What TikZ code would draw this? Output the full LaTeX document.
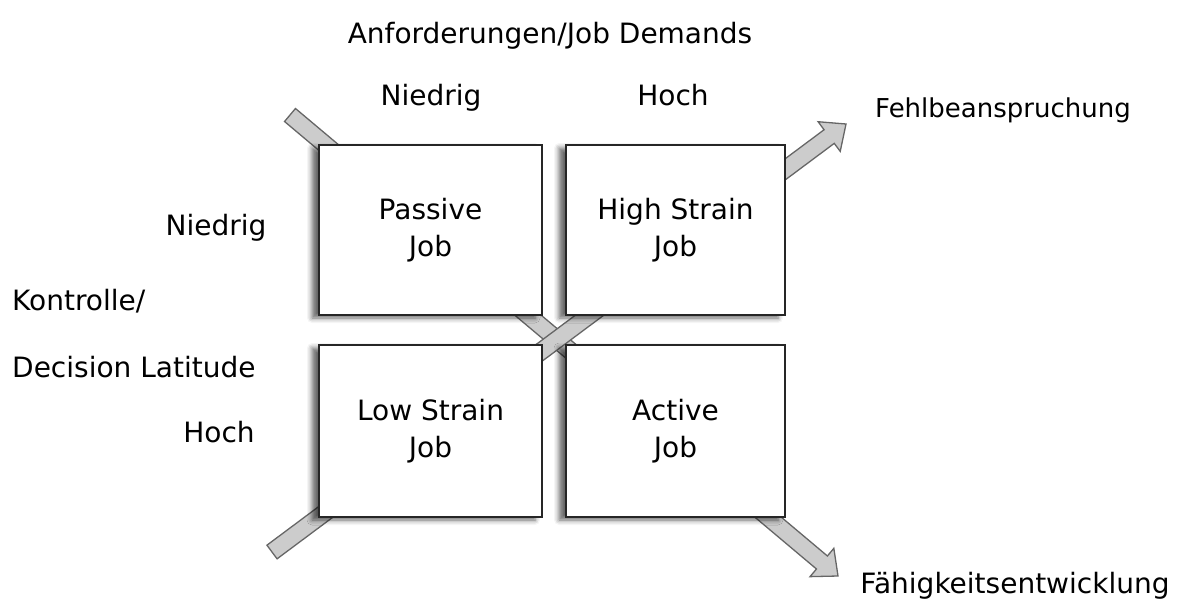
\documentclass[tikz,border=0pt]{standalone}
\usepackage{fontspec}
\setmainfont{DejaVu Sans}
\usetikzlibrary{calc,shadows.blur}
\newcommand\fatarrow[2]{%
  \path ($(#2)!21pt!(#1)$) coordinate (#2h);
  \draw[bigarrow] ($(#1)!8.5pt!90:(#2)$) -- ($(#2h)!8.5pt!90:(#2)$) -- ($(#2h)!18.5pt!90:(#2)$)
    -- (#2) -- ($(#2h)!18.5pt!-90:(#2)$) -- ($(#2h)!8.5pt!-90:(#2)$) -- ($(#1)!8.5pt!-90:(#2)$) -- cycle;}
\begin{document}
\begin{tikzpicture}[x=1pt,y=-1pt,
  lbl/.style={anchor=base,font=\fontsize{28}{37}\selectfont,inner sep=0pt},
  jobbox/.style={draw=black!85,line width=1.8pt,fill=white,align=center,inner sep=0pt,
    font=\fontsize{28}{37}\selectfont,
    blur shadow={shadow xshift=-7pt,shadow yshift=-3pt,shadow blur radius=5pt,shadow opacity=60}},
  bigarrow/.style={fill=black!20,draw=black!60,line width=1.3pt,line join=miter}]
\useasboundingbox (0,0) rectangle (1188,608);
% arrows
\coordinate (a1s) at (290,115);
\coordinate (a1e) at (838,576);
\coordinate (a2s) at (272,552);
\coordinate (a2e) at (846,124);
\fatarrow{a1s}{a1e}
\fatarrow{a2s}{a2e}
% boxes
\node[jobbox,minimum width=223pt,minimum height=170pt] (passive) at (430.5,230) {Passive\\Job};
\node[jobbox,minimum width=219pt,minimum height=170pt] (high) at (675.5,230) {High Strain\\Job};
\node[jobbox,minimum width=223pt,minimum height=172pt] (low) at (430.5,431) {Low Strain\\Job};
\node[jobbox,minimum width=219pt,minimum height=172pt] (active) at (675.5,431) {Active\\Job};
% labels
\node[lbl] (title) at (550,43) {Anforderungen/Job Demands};
\node[lbl] (dlow) at (431,105) {Niedrig};
\node[lbl] (dhigh) at (673,105) {Hoch};
\node[lbl,anchor=base west,font=\fontsize{26}{32}\selectfont] (fehl) at (875,117) {Fehlbeanspruchung};
\node[lbl] (faeh) at (1015,593) {Fähigkeitsentwicklung};
\node[lbl] (klow) at (216,235) {Niedrig};
\node[lbl,anchor=base west] (kontr) at (12,310) {Kontrolle/};
\node[lbl,anchor=base west] (dec) at (12,377) {Decision Latitude};
\node[lbl] (khigh) at (219,442) {Hoch};
\end{tikzpicture}
\end{document}
